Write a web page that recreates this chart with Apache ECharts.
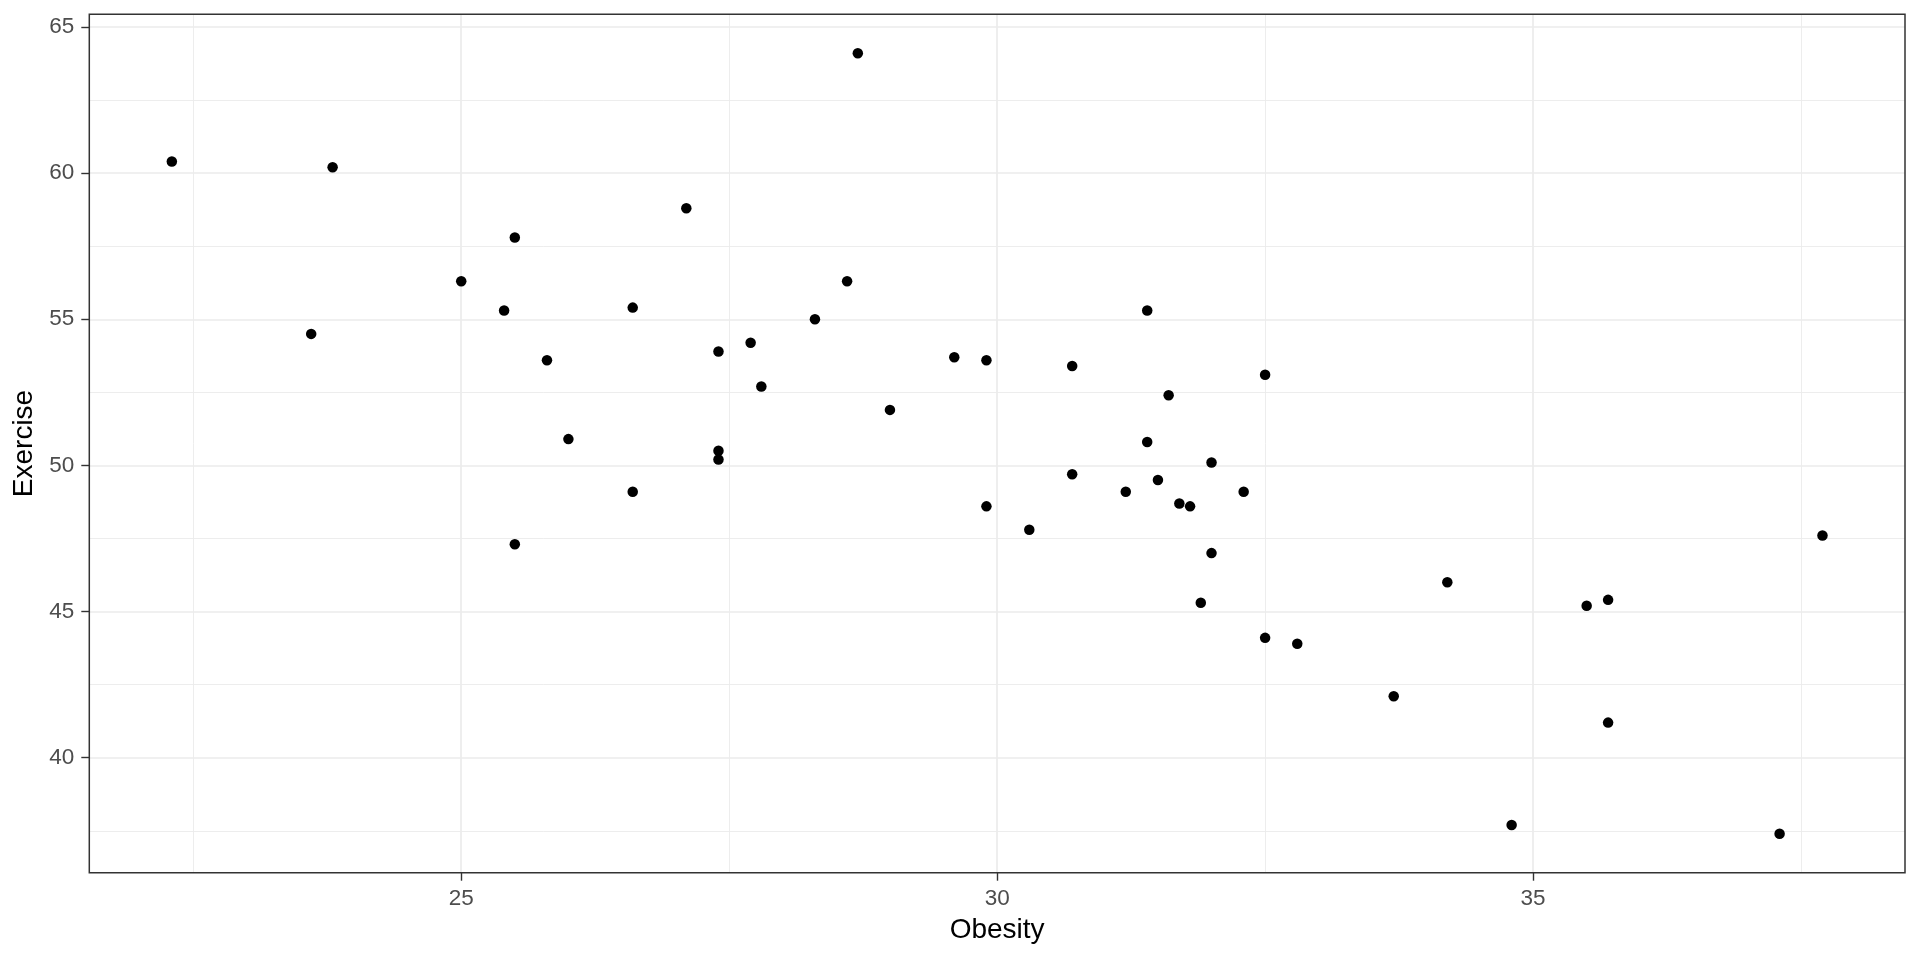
<!DOCTYPE html>
<html><head><meta charset="utf-8">
<script src="https://cdn.jsdelivr.net/npm/echarts@6/dist/echarts.min.js"></script>
<style>html,body{margin:0;padding:0;background:#fff}#c{width:1920px;height:960px}</style>
</head><body><div id="c"></div>
<script>
const obesity = [22.3,23.8,23.6,25.0,25.5,25.4,25.8,25.5,26.0,26.6,26.6,27.1,27.4,27.4,27.4,27.7,27.8,28.3,28.6,28.7,29.0,29.6,29.9,29.9,30.3,30.7,30.7,31.2,31.4,31.4,31.5,31.6,31.7,31.8,31.9,32.0,32.0,32.3,32.5,32.5,32.8,33.7,34.2,34.8,35.5,35.7,35.7,37.3,37.7];
const exercise = [60.4,60.2,54.5,56.3,57.8,55.3,53.6,47.3,50.9,55.4,49.1,58.8,53.9,50.5,50.2,54.2,52.7,55.0,56.3,64.1,51.9,53.7,53.6,48.6,47.8,53.4,49.7,49.1,55.3,50.8,49.5,52.4,48.7,48.6,45.3,50.1,47.0,49.1,53.1,44.1,43.9,42.1,46.0,37.7,45.2,45.4,41.2,37.4,47.6];
const xMajorTicks = [25, 30, 35];
const xMinorTicks = [22.5, 27.5, 32.5, 37.5];
const yMajorTicks = [40, 45, 50, 55, 60, 65];
const yMinorTicks = [37.5, 42.5, 47.5, 52.5, 57.5, 62.5];
const xTitle = 'Obesity';
const yTitle = 'Exercise';

function expand(arr) {
  const lo = Math.min(...arr), hi = Math.max(...arr), d = (hi - lo) * 0.05;
  return [lo - d, hi + d];
}
const xr = expand(obesity), yr = expand(exercise);
const FONT = '"Liberation Sans", Arial, sans-serif';
const gridColor = '#EBEBEB';

const chart = echarts.init(document.getElementById('c'), null, {renderer: 'canvas'});
chart.setOption({
  animation: false,
  backgroundColor: '#fff',
  grid: {left: 89.3, right: 15, top: 14.3, bottom: 87.3, containLabel: false,
         show: true, borderColor: '#333333', borderWidth: 1.5, backgroundColor: 'transparent', z: 10},
  xAxis: [
    {type: 'value', min: xr[0], max: xr[1], position: 'bottom',
     name: xTitle, nameLocation: 'middle', nameGap: 44,
     nameTextStyle: {fontFamily: FONT, fontSize: 28, color: '#000'},
     axisLine: {show: false},
     axisTick: {show: true, length: 8, inside: false, customValues: xMajorTicks, lineStyle: {color: '#333333', width: 1.4}},
     axisLabel: {show: true, customValues: xMajorTicks, margin: 15, fontFamily: FONT, fontSize: 22.5, color: '#4D4D4D'},
     splitLine: {show: true, lineStyle: {color: gridColor, width: 1.7}}},
    {type: 'value', min: xr[0], max: xr[1], position: 'top',
     axisLine: {show: false},
     axisTick: {show: false, customValues: xMinorTicks},
     axisLabel: {show: false, customValues: xMinorTicks},
     splitLine: {show: true, lineStyle: {color: gridColor, width: 0.9}}}
  ],
  yAxis: [
    {type: 'value', min: yr[0], max: yr[1], position: 'left',
     name: yTitle, nameLocation: 'middle', nameGap: 45, nameRotate: 90,
     nameTextStyle: {fontFamily: FONT, fontSize: 28, color: '#000'},
     axisLine: {show: false},
     axisTick: {show: true, length: 8, inside: false, customValues: yMajorTicks, lineStyle: {color: '#333333', width: 1.4}},
     axisLabel: {show: true, customValues: yMajorTicks, margin: 15, fontFamily: FONT, fontSize: 22.5, color: '#4D4D4D'},
     splitLine: {show: true, lineStyle: {color: gridColor, width: 1.7}}},
    {type: 'value', min: yr[0], max: yr[1], position: 'right',
     axisLine: {show: false},
     axisTick: {show: false, customValues: yMinorTicks},
     axisLabel: {show: false, customValues: yMinorTicks},
     splitLine: {show: true, lineStyle: {color: gridColor, width: 0.9}}}
  ],
  series: [{
    type: 'scatter', xAxisIndex: 0, yAxisIndex: 0,
    symbol: 'circle', symbolSize: 10.5,
    itemStyle: {color: '#000', opacity: 1},
    data: obesity.map((x, i) => [x, exercise[i]]),
    z: 20
  }]
});
</script></body></html>
